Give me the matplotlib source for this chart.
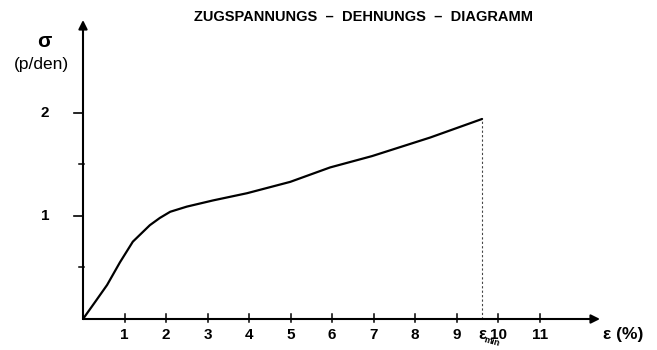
import matplotlib.pyplot as plt

# Dehnung (%) und Zugspannung (p/den)
dehnung = [0.0, 0.3, 0.58, 0.89, 1.2, 1.61, 1.85, 2.1, 2.5, 3.13, 3.95, 4.99, 5.95, 6.96, 8.36, 9.61]
spannung = [0.0, 0.17, 0.33, 0.55, 0.75, 0.91, 0.98, 1.04, 1.09, 1.15, 1.22, 1.33, 1.47, 1.58, 1.76, 1.94]

x_ticks = [1, 2, 3, 4, 5, 6, 7, 8, 9, 10, 11]
y_ticks = [1, 2]
eps_min = 9.61

plt.rcParams['font.family'] = ['Liberation Sans', 'DejaVu Sans']

fig = plt.figure(figsize=(6.57, 3.5), dpi=100)
ax = fig.add_axes([83 / 657, 31 / 350, 517 / 657, 299 / 350])
ax.set_xlim(0, 12.45)
ax.set_ylim(0, 2.9)
ax.axis('off')

# Achsen mit Pfeilspitzen
for end in [(12.45, 0), (0, 2.9)]:
    ax.annotate('', xy=end, xytext=(0, 0),
                arrowprops=dict(arrowstyle='-|>', color='black', lw=1.5, mutation_scale=13,
                                shrinkA=0, shrinkB=0),
                annotation_clip=False)

# Teilstriche
for t in x_ticks:
    ax.plot([t, t], [-0.03, 0.05], color='black', lw=1.1, clip_on=False)
    ax.text(t, -0.09, str(t), ha='center', va='top', fontsize=11, fontweight='bold')
for t in y_ticks:
    ax.plot([-0.22, 0], [t, t], color='black', lw=1.2, clip_on=False)
    ax.text(-0.92, t, str(t), ha='center', va='center', fontsize=11, fontweight='bold')
for t in [0.5, 1.5]:
    ax.plot([-0.1, 0.03], [t, t], color='black', lw=1.1, clip_on=False)

# Kurve
ax.plot(dehnung, spannung, color='black', lw=1.6, solid_capstyle='round', clip_on=False)
ax.plot([eps_min, eps_min], [0, spannung[-1]], color='#444444', lw=0.8, ls=(0, (2, 2)), clip_on=False)

# Beschriftungen
ax.text(-0.92, 2.69, 'σ', ha='center', va='center', fontsize=15, fontweight='bold')
ax.text(-1.0, 2.47, '(p/den)', ha='center', va='center', fontsize=12.5)
ax.text(eps_min, -0.08, 'ε', ha='center', va='top', fontsize=12, fontweight='bold')
ax.text(eps_min + 0.24, -0.155, 'min', ha='center', va='top', fontsize=6.5,
        fontweight='bold', rotation=-15)
ax.text(13.0, -0.08, 'ε (%)', ha='center', va='top', fontsize=12.5, fontweight='bold')

fig.text(363 / 657, 1 - 17 / 350, 'ZUGSPANNUNGS  –  DEHNUNGS  –  DIAGRAMM',
         ha='center', va='center', fontsize=10.5, fontweight='bold')

fig.savefig('out.png', dpi=100)
